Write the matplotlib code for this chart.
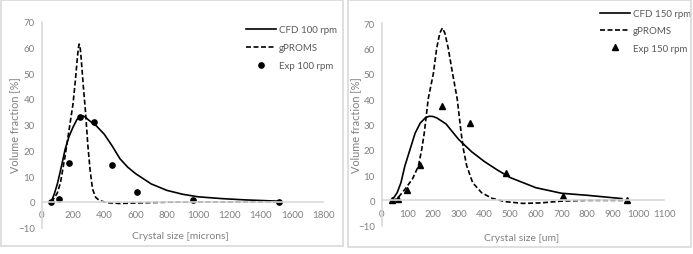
import matplotlib
matplotlib.use("Agg")
import matplotlib.pyplot as plt
from matplotlib.patches import Rectangle

plt.rcParams['font.family'] = ['Lato', 'DejaVu Sans']

# Panneau gauche : 100 rpm
cfd100_x = [60, 80, 100, 125, 150, 175, 200, 225, 245, 255, 265, 280, 300, 350, 400, 450, 500, 550, 600, 700, 800, 900, 1000, 1150, 1300, 1515]
cfd100_y = [0, 3, 7, 13.5, 20.5, 25.5, 29, 32, 33.2, 33.5, 33.4, 32.9, 31.8, 29.5, 26.3, 21.8, 16.8, 13.5, 11, 7, 4.5, 3, 2, 1.3, 0.8, 0.3]
gp100_x = [60, 80, 100, 120, 150, 175, 200, 215, 228, 235, 240, 245, 252, 266, 280, 295, 310, 325, 345, 370, 420, 500, 600, 800, 1000, 1515]
gp100_y = [0, 1.5, 3.5, 7.5, 18, 28, 38, 47, 56, 60, 61.3, 60.5, 56, 45, 35, 22, 12, 5, 1.8, 0.5, -0.3, -0.6, -0.4, -0.1, 0, 0]
exp100_x = [60, 113, 175, 245, 337, 448, 612, 970, 1520]
exp100_y = [0, 1.3, 15.3, 33.1, 31, 14.3, 4.0, 0.6, 0]

# Panneau droit : 150 rpm
cfd150_x = [40, 60, 75, 90, 110, 130, 150, 170, 185, 200, 215, 250, 300, 350, 400, 450, 500, 600, 700, 800, 935]
cfd150_y = [0, 3, 7, 13.5, 20, 26.5, 30.5, 32.6, 33.2, 33.1, 32.5, 30.2, 24, 19.2, 15.3, 12, 9, 5, 2.8, 2, 0.7]
gp150_x = [40, 60, 90, 120, 143, 156, 166, 181, 201, 214, 226, 236, 246, 259, 276, 294, 309, 318, 331, 354, 389, 430, 480, 550, 620, 700, 800, 960]
gp150_y = [0, 0.6, 4.3, 8.5, 13.6, 20.2, 26.8, 40, 50, 60, 66, 68, 66, 60, 50, 40, 26.8, 20.2, 13.6, 7, 3, 0.8, -0.5, -1.2, -1, -0.3, 0, 0]
exp150_x = [39, 62, 97, 150, 236, 345, 485, 706, 953]
exp150_y = [0, 0.7, 4.1, 13.8, 37.3, 30.5, 10.7, 1.8, 0]

W, H = 693, 255
gris_axe = "#d9d9d9"
gris_txt = "#808080"

fig = plt.figure(figsize=(W / 100, H / 100), dpi=100)

# cadres gris des deux graphiques
for (x0, y0, x1, y1) in [(1, 1, 343, 247), (348, 1, 691, 248)]:
    fig.patches.append(Rectangle((x0 / W, 1 - y1 / H), (x1 - x0) / W, (y1 - y0) / H,
                                 transform=fig.transFigure, fill=False,
                                 edgecolor=gris_axe, linewidth=1.2))


def pix_axes(x0, x1, ytop, ybot):
    return [x0 / W, 1 - ybot / H, (x1 - x0) / W, (ybot - ytop) / H]


def styler(ax, xmax, xstep):
    ax.set_xlim(0, xmax)
    ax.set_ylim(-10, 70)
    ax.set_xticks(range(0, xmax + 1, xstep))
    ax.set_yticks(range(-10, 71, 10))
    for s in ["top", "right"]:
        ax.spines[s].set_visible(False)
    ax.spines["bottom"].set_position(("data", 0))
    for s in ["bottom", "left"]:
        ax.spines[s].set_color(gris_axe)
        ax.spines[s].set_linewidth(1.2)
    ax.tick_params(axis="x", length=0, pad=6, labelsize=7, labelcolor=gris_txt)
    ax.tick_params(axis="y", length=0, pad=5, labelsize=7, labelcolor=gris_txt)
    ax.set_zorder(1)


ax1 = fig.add_axes(pix_axes(41.7, 323.3, 22.7, 228.7))
ax1.plot(cfd100_x, cfd100_y, color="black", lw=1.2, label="CFD 100 rpm")
ax1.plot(gp100_x, gp100_y, color="black", lw=1.2, ls=(0, (3, 1.5)), label="gPROMS")
ax1.plot(exp100_x, exp100_y, "o", color="black", ms=3.8, label="Exp 100 rpm")
styler(ax1, 1800, 200)
ax1.legend(loc="upper left", bbox_to_anchor=(247.7 / W - 0.003, 1 - 26 / H), bbox_transform=fig.transFigure,
           frameon=False, fontsize=7, handlelength=3.1, handletextpad=0.3, labelspacing=0.95,
           borderpad=0, borderaxespad=0, labelcolor="#595959")

ax2 = fig.add_axes(pix_axes(381.7, 664.3, 24, 226.7))
ax2.plot(cfd150_x, cfd150_y, color="black", lw=1.2, label="CFD 150 rpm")
ax2.plot(gp150_x, gp150_y, color="black", lw=1.2, ls=(0, (3, 1.5)), label="gPROMS")
ax2.plot(exp150_x, exp150_y, "^", color="black", ms=3.8, label="Exp 150 rpm")
styler(ax2, 1100, 100)
ax2.legend(loc="upper left", bbox_to_anchor=(601.7 / W - 0.003, 1 - 10 / H), bbox_transform=fig.transFigure,
           frameon=False, fontsize=7, handlelength=3.1, handletextpad=0.3, labelspacing=0.85,
           borderpad=0, borderaxespad=0, labelcolor="#595959")

# titres des axes
fig.text(15 / W, 1 - 125 / H, "Volume fraction [%]", rotation=90, ha="center", va="center",
         fontsize=7.8, color=gris_txt)
fig.text(355.7 / W, 1 - 125 / H, "Volume fraction [%]", rotation=90, ha="center", va="center",
         fontsize=7.8, color=gris_txt)
fig.text(180 / W, 1 - 237 / H, "Crystal size [microns]", ha="center", va="center",
         fontsize=7.5, color=gris_txt)
fig.text(521.7 / W, 1 - 239 / H, "Crystal size [um]", ha="center", va="center",
         fontsize=7.5, color=gris_txt)

fig.savefig("out.png", dpi=100)
